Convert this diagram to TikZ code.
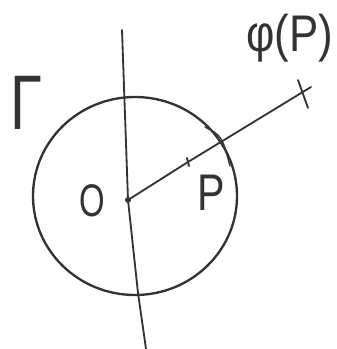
\documentclass[tikz,border=0pt]{standalone}
\usepackage{amsmath}
\usepackage{amssymb}
\usepackage{fontspec}
\setmainfont{Liberation Sans}
\usepackage{xcolor}
\usepackage{tikz}
\usetikzlibrary{calc}

\begin{document}
\begin{tikzpicture}[
  x=0.03cm,y=-0.03cm,
  pen/.style={draw=black!80,line width=0.55mm,line cap=round},
  pen2/.style={pen,line width=0.7mm},
  lbl/.style={inner sep=0pt,text=black!80},
  dot/.style={circle,fill=black!80,inner sep=0pt,minimum size=1.8mm}]

\useasboundingbox (0,0) rectangle (336,349);

% circle Gamma and its centre
\coordinate (c) at (135,196);
\node[dot] (o) at (128,200) {};
\draw[pen2] (c) circle [x radius=102,y radius=99];
\draw[pen,line width=0.4mm] (205,127) .. controls (222,136) .. (230,166);

% axis through O
\coordinate (top) at (122,30);
\coordinate (bot) at (146,349);
\draw[pen] (top) -- (o) -- (138,293) -- (bot);

% ray O -> phi(P)
\coordinate (p)  at (188,162);
\coordinate (fp) at (304,92);
\coordinate (end) at (311,87);
\draw[pen] (o) -- (p) -- (end);
\draw[pen] ($(p)+(-1,-4)$) -- ($(p)+(1,4)$);
\draw[pen] ($(fp)+(-6,-12)$) -- ($(fp)+(4,16)$);

% labels
\node[lbl,font=\fontsize{39}{40}\selectfont] (lo)  at (92,201)  {\scalebox{0.72}[1]{O}};
\node[lbl,font=\fontsize{44}{46}\selectfont] (lp)  at (211,193) {\scalebox{0.8}[1]{P}};
\node[lbl,font=\fontsize{66}{70}\selectfont] (lg)  at (26,103)  {\scalebox{0.75}[1]{Γ}};
\node[lbl,font=\fontsize{44}{46}\selectfont] (lfp) at (290,38)  {\scalebox{0.85}[1]{φ(P)}};
\end{tikzpicture}
\end{document}
